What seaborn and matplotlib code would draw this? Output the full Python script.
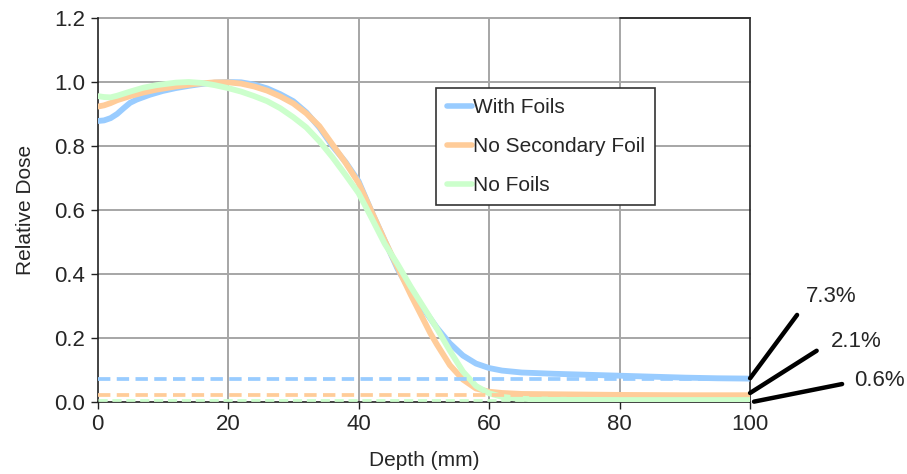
import numpy as np
import pandas as pd
import matplotlib
matplotlib.use("Agg")
import matplotlib.pyplot as plt
import seaborn as sns

# Depth-dose curves (relative dose vs depth in mm)
depth_with_foils = [0, 1, 2, 3, 4, 5, 6, 8, 10, 12, 14, 16, 18, 20, 22, 24, 26, 28, 30,
                    32, 34, 36, 38, 40, 42, 44, 46, 48, 50, 52, 54, 56, 58, 60, 62, 65,
                    70, 75, 80, 85, 90, 95, 100]
dose_with_foils = [0.878, 0.880, 0.887, 0.900, 0.918, 0.935, 0.945, 0.960, 0.972, 0.981,
                   0.988, 0.994, 0.998, 1.000, 0.999, 0.992, 0.980, 0.962, 0.940, 0.905,
                   0.858, 0.800, 0.750, 0.690, 0.595, 0.505, 0.415, 0.345, 0.290, 0.232,
                   0.183, 0.145, 0.120, 0.106, 0.098, 0.092, 0.088, 0.085, 0.082, 0.079,
                   0.076, 0.074, 0.073]

depth_no_secondary = [0, 1, 2, 3, 5, 7, 9, 12, 15, 18, 20, 22, 24, 26, 28, 30, 32, 34, 36,
                      38, 40, 42, 44, 46, 48, 50, 51, 52, 54, 56, 58, 60, 62, 65, 70, 80,
                      90, 100]
dose_no_secondary = [0.923, 0.927, 0.934, 0.943, 0.956, 0.967, 0.976, 0.986, 0.994, 0.999,
                     0.999, 0.995, 0.986, 0.973, 0.955, 0.933, 0.902, 0.862, 0.805, 0.748,
                     0.685, 0.595, 0.505, 0.420, 0.335, 0.255, 0.215, 0.180, 0.115, 0.070,
                     0.042, 0.032, 0.028, 0.025, 0.024, 0.022, 0.021, 0.021]

depth_no_foils = [0, 1, 2, 3, 5, 7, 9, 12, 14, 16, 18, 20, 22, 24, 26, 28, 30, 32, 34, 36,
                  38, 40, 42, 44, 46, 48, 50, 52, 54, 56, 58, 60, 62, 64, 67, 70, 80, 90,
                  100]
dose_no_foils = [0.956, 0.953, 0.952, 0.957, 0.970, 0.982, 0.990, 0.998, 1.000, 0.997,
                 0.990, 0.981, 0.970, 0.956, 0.940, 0.918, 0.890, 0.858, 0.815, 0.765,
                 0.710, 0.653, 0.575, 0.495, 0.430, 0.360, 0.295, 0.230, 0.160, 0.095,
                 0.050, 0.027, 0.016, 0.011, 0.008, 0.007, 0.006, 0.006, 0.006]

series_names = ["With Foils", "No Secondary Foil", "No Foils"]
tail_levels = [0.073, 0.021, 0.006]
tail_labels = ["7.3%", "2.1%", "0.6%"]
x_ticks = [0, 20, 40, 60, 80, 100]
y_ticks = [0.0, 0.2, 0.4, 0.6, 0.8, 1.0, 1.2]

colors = ["#99CCFF", "#FFCC99", "#CCFFCC"]

df = pd.concat([
    pd.DataFrame({"Depth": d, "Dose": v, "Beam": n})
    for d, v, n in zip([depth_with_foils, depth_no_secondary, depth_no_foils],
                       [dose_with_foils, dose_no_secondary, dose_no_foils],
                       series_names)
], ignore_index=True)

sns.set_style("white")
plt.rcParams["font.family"] = ["Liberation Sans", "DejaVu Sans"]
FS = 15

fig = plt.figure(figsize=(9.07, 4.74), dpi=100)
ax = fig.add_axes([0.1075, 0.152, 0.7195, 0.810])

grid_color = "#A6A6A6"
for xv in x_ticks[1:-1]:
    ax.axvline(xv, color=grid_color, lw=1.4, zorder=0)
for yv in y_ticks[1:]:
    ax.axhline(yv, color=grid_color, lw=1.4, zorder=0, clip_on=False)

sns.lineplot(data=df, x="Depth", y="Dose", hue="Beam", hue_order=series_names,
             palette=colors, linewidth=4.2, sort=False, estimator=None, ax=ax,
             zorder=3)

# Asymptotic tail levels
for lvl, c, w in zip(tail_levels, colors, [2.7, 2.7, 2.0]):
    ax.plot([0, 100], [lvl, lvl], color=c, lw=w, ls=(0, (3.3, 1.7)), zorder=4,
            dash_capstyle="butt")

ax.set_xlim(0, 100)
ax.set_ylim(0, 1.2)
ax.set_xticks(x_ticks)
ax.set_yticks(y_ticks)
ax.set_yticklabels([f"{v:.1f}" for v in y_ticks])
ax.tick_params(axis="both", direction="out", length=5, width=1, color="#222222",
               labelsize=FS + 1, pad=4, bottom=True, left=True)
ax.set_xlabel("Depth (mm)", fontsize=FS, labelpad=11)
ax.set_ylabel("Relative Dose", fontsize=FS, labelpad=14)

for side in ["left", "bottom", "right"]:
    ax.spines[side].set_color("#222222")
    ax.spines[side].set_linewidth(1.2)
ax.spines["top"].set_visible(False)
ax.plot([80, 100], [1.2, 1.2], color="#333333", lw=1.4, clip_on=False, zorder=5)
ax.spines["bottom"].set_zorder(1)

# Callouts for tail levels
starts = [(100, 0.074), (100, 0.028), (100.6, 0.001)]
ends = [(107.2, 0.272), (110.2, 0.160), (114.1, 0.056)]
text_pos = [(108.6, 0.331), (112.4, 0.1875), (116.0, 0.066)]
for (x0, y0), (x1, y1), (tx, ty), lab in zip(starts, ends, text_pos, tail_labels):
    ax.plot([x0, x1], [y0, y1], color="black", lw=3.2, clip_on=False,
            solid_capstyle="round", zorder=6)
    ax.text(tx, ty, lab, fontsize=FS + 1, ha="left", va="center", clip_on=False)

handles, labels = ax.get_legend_handles_labels()
leg = ax.legend(handles, labels, loc="upper left", bbox_to_anchor=(0.519, 0.818),
                borderaxespad=0, frameon=True, fancybox=False, framealpha=1,
                edgecolor="#333333", fontsize=FS, handlelength=1.2,
                handletextpad=0.05, labelspacing=0.95, borderpad=0.5)
leg.get_frame().set_linewidth(1.2)
for h in leg.get_lines():
    h.set_linewidth(4)
leg.set_zorder(10)

fig.savefig("out.png", dpi=100)
